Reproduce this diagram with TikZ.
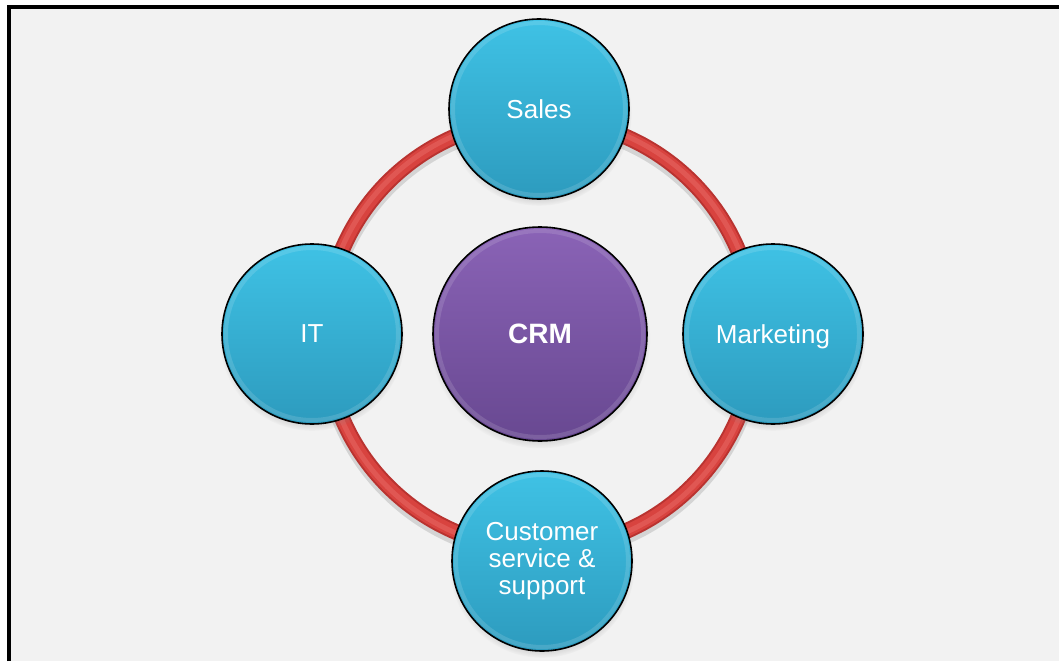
\documentclass[tikz,border=0pt]{standalone}
\usepackage{fontspec}
\setmainfont{Liberation Sans}
\usetikzlibrary{shadows,fadings}
\definecolor{bgc}{HTML}{F2F2F2}
\definecolor{blueT}{HTML}{3FC2E5}
\definecolor{blueB}{HTML}{2D9BBE}
\definecolor{purT}{HTML}{8A63B6}
\definecolor{purB}{HTML}{684891}
\definecolor{redD}{HTML}{B93330}
\definecolor{redM}{HTML}{D8433F}
\definecolor{redL}{HTML}{E05753}
\begin{document}
\begin{tikzpicture}[x=1pt,y=-1pt,
  bub/.style={circle, draw=black, line width=1.6pt, minimum size=180pt, inner sep=0pt,
    top color=blueT, bottom color=blueB, text=white, align=center,
    font=\fontsize{26}{27}\selectfont,
    circular drop shadow={shadow xshift=0pt, shadow yshift=-4pt, shadow scale=1.03, opacity=0.45}},
  hub/.style={bub, minimum size=214pt, top color=purT, bottom color=purB,
    font=\bfseries\fontsize{28}{30}\selectfont},
  bevel/.style={white, opacity=0.13, line width=4pt},
  ringdark/.style={redD, line width=16pt},
  ringmid/.style={redM, line width=12pt},
  ringlight/.style={redL, line width=5pt},
  ringshadow/.style={black, opacity=0.12, line width=18pt},
  frameline/.style={black, line width=3.5pt}]
\useasboundingbox (0,0) rectangle (1059,661);
\fill[white] (0,0) rectangle (1059,661);
\fill[bgc] (9,7) rectangle (1059,661);
\draw[frameline] (9,661) -- (9,7) -- (1059,7);

\coordinate (c) at (540,334);
\coordinate (cs0) at (540,338);
% ring
\draw[ringshadow] (cs0) circle[radius=215];
\draw[ringdark] (c) circle[radius=215];
\draw[ringmid] (c) circle[radius=215];
\draw[ringlight] (c) circle[radius=216];

% nodes
\node[bub] (sales) at (539,109) {Sales};
\node[bub, text depth=0pt] (mkt) at (773,334) {Marketing};
\node[bub] (cs) at (542,561) {Customer\\service \&\\support};
\node[bub] (it) at (312,334) {IT};
\node[hub] (crm) at (c) {CRM};

\foreach \n in {sales,mkt,cs,it}{
  \draw[bevel] (\n.center) circle[radius=86];
}
\draw[bevel] (crm.center) circle[radius=103];
\end{tikzpicture}
\end{document}
